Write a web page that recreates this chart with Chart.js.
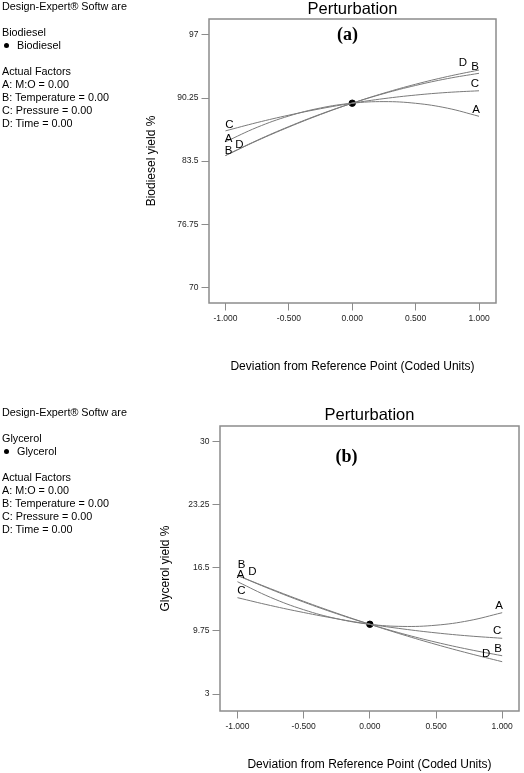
<!DOCTYPE html>
<html>
<head>
<meta charset="utf-8">
<script src="https://cdn.jsdelivr.net/npm/chart.js@4.4.0/dist/chart.umd.min.js"></script>
<style>
  body { margin:0; width:524px; height:773px; background:#fff; position:relative; overflow:hidden; font-family:"Liberation Sans", Arial, sans-serif; }
  canvas { position:absolute; left:0; }
  .info { position:absolute; left:2px; font-size:10.8px; line-height:13px; color:#000; white-space:pre; z-index:2; }
  .dot { display:inline-block; width:5px; height:5px; border-radius:50%; background:#000; margin:0 8px 1px 2px; vertical-align:middle; }
</style>
</head>
<body>
<canvas id="biodiesel" width="524" height="386" style="top:0"></canvas>
<canvas id="glycerol" width="524" height="387" style="top:386px"></canvas>

<div class="info" style="top:0">Design-Expert® Softw are

Biodiesel
<span class="dot"></span>Biodiesel

Actual Factors
A: M:O = 0.00
B: Temperature = 0.00
C: Pressure = 0.00
D: Time = 0.00</div>

<div class="info" style="top:406px">Design-Expert® Softw are

Glycerol
<span class="dot"></span>Glycerol

Actual Factors
A: M:O = 0.00
B: Temperature = 0.00
C: Pressure = 0.00
D: Time = 0.00</div>

<script>
// deviation from reference point (coded units)
const xCoded = [-1, -0.75, -0.5, -0.25, 0, 0.25, 0.5, 0.75, 1];
const xTicks = [-1, -0.5, 0, 0.5, 1];
const factorNames = ['A', 'B', 'C', 'D'];

// (a) biodiesel yield %
const biodieselA = [85.57, 87.12, 88.33, 89.19, 89.70, 89.87, 89.69, 89.17, 88.30];
const biodieselB = [84.10, 85.73, 87.20, 88.53, 89.70, 90.73, 91.60, 92.33, 92.90];
const biodieselC = [86.74, 87.63, 88.42, 89.11, 89.70, 90.19, 90.57, 90.85, 91.03];
const biodieselD = [84.10, 85.69, 87.15, 88.49, 89.70, 90.78, 91.73, 92.55, 93.25];
const biodieselRef = 89.70;
const biodieselTicks = [70, 76.75, 83.5, 90.25, 97];

// (b) glycerol yield %
const glycerolA = [15.03, 13.35, 12.03, 11.07, 10.47, 10.24, 10.37, 10.86, 11.71];
const glycerolB = [15.70, 14.22, 12.85, 11.60, 10.47, 9.45, 8.55, 7.77, 7.10];
const glycerolC = [13.32, 12.48, 11.73, 11.06, 10.47, 9.97, 9.55, 9.22, 8.97];
const glycerolD = [15.70, 14.28, 12.93, 11.66, 10.47, 9.35, 8.31, 7.35, 6.46];
const glycerolRef = 10.47;
const glycerolTicks = [3, 9.75, 16.5, 23.25, 30];

// box, headings and the A/B/C/D letters at the ends of the curves
const framePlugin = {
  id: 'frame',
  afterDatasetsDraw(chart, args, opts) {
    const a = chart.chartArea;
    const ctx = chart.ctx;
    const cx = (a.left + a.right) / 2;
    ctx.save();
    ctx.strokeStyle = '#8c8c8c';
    ctx.lineWidth = 1.5;
    ctx.strokeRect(a.left, a.top, a.right - a.left, a.bottom - a.top);

    ctx.fillStyle = '#000';
    ctx.textAlign = 'center';
    ctx.textBaseline = 'middle';
    ctx.font = '16.5px "Liberation Sans", Arial, sans-serif';
    ctx.fillText('Perturbation', cx, a.top + opts.titleDy);
    ctx.font = 'bold 18px "Liberation Serif", "Times New Roman", serif';
    ctx.fillText(opts.panel, cx + opts.panelDx, a.top + opts.panelDy);

    ctx.font = '11.5px "Liberation Sans", Arial, sans-serif';
    opts.letters.forEach(l => {
      const pts = chart.getDatasetMeta(l.series).data;
      const pt = l.end === 'left' ? pts[0] : pts[pts.length - 1];
      ctx.fillText(factorNames[l.series], pt.x + l.dx, pt.y + l.dy);
    });
    ctx.restore();
  }
};

function makeChart(id, cfg) {
  const series = [cfg.a, cfg.b, cfg.c, cfg.d];
  const datasets = series.map(s => ({
    data: s.map((v, i) => ({ x: xCoded[i], y: v })),
    borderColor: '#7a7a7a',
    borderWidth: 1,
    pointRadius: 0,
    tension: 0.4,
    fill: false
  }));
  datasets.push({
    type: 'scatter',
    data: [{ x: 0, y: cfg.ref }],
    pointRadius: 3.2,
    backgroundColor: '#000',
    borderColor: '#000',
    showLine: false
  });

  return new Chart(document.getElementById(id), {
    type: 'line',
    data: { datasets: datasets },
    plugins: [framePlugin],
    options: {
      responsive: false,
      animation: false,
      events: [],
      layout: { padding: { top: cfg.top, right: cfg.right, left: 0, bottom: 0 } },
      plugins: {
        legend: { display: false },
        tooltip: { enabled: false },
        frame: cfg.frame
      },
      scales: {
        x: {
          type: 'linear',
          min: cfg.xMin,
          max: cfg.xMax,
          afterBuildTicks: s => { s.ticks = xTicks.map(v => ({ value: v })); },
          afterFit: s => { s.height = cfg.xHeight; },
          ticks: {
            callback: v => v.toFixed(3),
            font: { family: '"Liberation Sans", Arial', size: 8.5 },
            color: '#222',
            padding: 3,
            maxRotation: 0
          },
          grid: { drawOnChartArea: false, drawTicks: true, tickLength: 7.5, color: '#8c8c8c' },
          border: { display: false },
          title: {
            display: true,
            text: 'Deviation from Reference Point (Coded Units)',
            font: { family: '"Liberation Sans", Arial', size: 12 },
            color: '#000',
            padding: { top: 0, bottom: cfg.xTitlePad }
          }
        },
        y: {
          min: cfg.yMin,
          max: cfg.yMax,
          afterBuildTicks: s => { s.ticks = cfg.yTicks.map(v => ({ value: v })); },
          afterFit: s => { s.width = cfg.yWidth; },
          ticks: {
            callback: v => String(v),
            font: { family: '"Liberation Sans", Arial', size: 8.5 },
            color: '#222',
            padding: 3
          },
          grid: { drawOnChartArea: false, drawTicks: true, tickLength: 7.5, color: '#8c8c8c' },
          border: { display: false },
          title: {
            display: true,
            text: cfg.yTitle,
            font: { family: '"Liberation Sans", Arial', size: 12 },
            color: '#000',
            padding: { top: cfg.yTitlePad, bottom: 0 }
          }
        }
      }
    }
  });
}

makeChart('biodiesel', {
  a: biodieselA, b: biodieselB, c: biodieselC, d: biodieselD,
  ref: biodieselRef, yTicks: biodieselTicks,
  yMin: 68.32, yMax: 98.71, xMin: -1.13, xMax: 1.134,
  top: 19, right: 28, yWidth: 209, xHeight: 83,
  xTitlePad: 11.8, yTitlePad: 144.5,
  yTitle: 'Biodiesel yield %',
  frame: {
    panel: '(a)', titleDy: -9.5, panelDx: -5, panelDy: 16.5,
    letters: [
      { series: 3, end: 'right', dx: -16, dy: -7 },
      { series: 1, end: 'right', dx: -4, dy: -6 },
      { series: 2, end: 'right', dx: -4, dy: -7 },
      { series: 0, end: 'right', dx: -3, dy: -6 },
      { series: 2, end: 'left', dx: 4, dy: -6 },
      { series: 0, end: 'left', dx: 3, dy: -3 },
      { series: 1, end: 'left', dx: 3, dy: -5 },
      { series: 3, end: 'left', dx: 14, dy: -11 }
    ]
  }
});

makeChart('glycerol', {
  a: glycerolA, b: glycerolB, c: glycerolC, d: glycerolD,
  ref: glycerolRef, yTicks: glycerolTicks,
  yMin: 1.18, yMax: 31.71, xMin: -1.132, xMax: 1.127,
  top: 40, right: 2, yWidth: 220, xHeight: 62,
  xTitlePad: 0.8, yTitlePad: 158.5,
  yTitle: 'Glycerol yield %',
  frame: {
    panel: '(b)', titleDy: -10.5, panelDx: -23, panelDy: 31.5,
    letters: [
      { series: 0, end: 'right', dx: -3, dy: -7 },
      { series: 2, end: 'right', dx: -5, dy: -7 },
      { series: 1, end: 'right', dx: -4, dy: -7 },
      { series: 3, end: 'right', dx: -16, dy: -8 },
      { series: 1, end: 'left', dx: 4, dy: -11 },
      { series: 0, end: 'left', dx: 3, dy: -7 },
      { series: 3, end: 'left', dx: 15, dy: -4 },
      { series: 2, end: 'left', dx: 4, dy: -7 }
    ]
  }
});
</script>
</body>
</html>
